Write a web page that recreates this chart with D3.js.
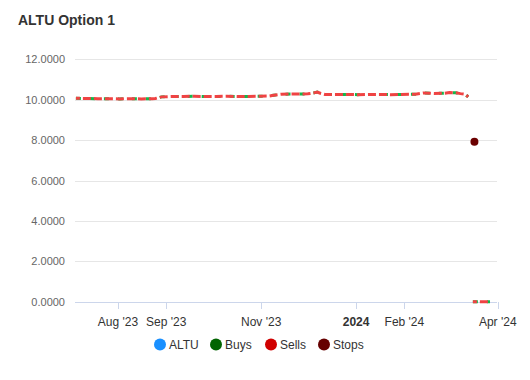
<!DOCTYPE html>
<html><head><meta charset="utf-8">
<script src="https://cdn.jsdelivr.net/npm/d3@7"></script>
<style>body{margin:0;background:#fff;font-family:"Liberation Sans",Arial,sans-serif}</style>
</head><body><div id="chart"></div>
<script>
const title = "ALTU Option 1";
const priceDates = ["2023-07-05","2023-07-12","2023-07-19","2023-07-26","2023-08-02","2023-08-09","2023-08-16","2023-08-23","2023-08-25","2023-08-29","2023-09-05","2023-09-12","2023-09-19","2023-09-26","2023-10-03","2023-10-10","2023-10-17","2023-10-24","2023-10-31","2023-11-06","2023-11-09","2023-11-14","2023-11-21","2023-11-28","2023-12-01","2023-12-05","2023-12-07","2023-12-09","2023-12-12","2023-12-19","2023-12-26","2024-01-02","2024-01-09","2024-01-16","2024-01-23","2024-01-30","2024-02-08","2024-02-13","2024-02-20","2024-02-27","2024-03-01","2024-03-05","2024-03-08","2024-03-11","2024-03-13","2024-03-15","2024-03-16","2024-03-27"];
const priceValues = [10.07,10.06,10.05,10.05,10.04,10.05,10.04,10.05,10.06,10.14,10.16,10.16,10.17,10.16,10.16,10.17,10.16,10.16,10.17,10.18,10.22,10.27,10.28,10.28,10.29,10.34,10.38,10.32,10.26,10.26,10.26,10.25,10.26,10.26,10.25,10.26,10.27,10.33,10.31,10.32,10.36,10.34,10.30,10.27,10.14,null,0,0];
const stopDates = ["2024-03-17"];
const stopValues = [7.92];
const yTicks = [0,2,4,6,8,10,12];
const xTickDates = ["2023-08-01","2023-09-01","2023-11-01","2024-01-01","2024-02-01","2024-04-01"];
const xTickLabels = ["Aug '23","Sep '23","Nov '23","2024","Feb '24","Apr '24"];
const legendNames = ["ALTU","Buys","Sells","Stops"];
const legendColors = ["#1a90ff","#006400","#d00000","#660000"];

const W = 530, H = 380;
const parse = d3.utcParse("%Y-%m-%d");
const svg = d3.select("#chart").append("svg").attr("width", W).attr("height", H);

const x = d3.scaleUtc().domain([new Date(Date.UTC(2023,6,4,10)), new Date(Date.UTC(2024,2,31,12))]).range([75, 497]);
const y = d3.scaleLinear().domain([0, 12]).range([301.7, 59.3]);

svg.append("text").attr("x", 18).attr("y", 25).attr("font-size", 14).attr("font-weight", "bold").attr("fill", "#333").text(title);

// grid
svg.append("g").selectAll("line").data(yTicks).join("line")
  .attr("x1", 75).attr("x2", 497).attr("y1", d => Math.round(y(d)) + 0.5).attr("y2", d => Math.round(y(d)) + 0.5)
  .attr("stroke", d => d === 0 ? "#ccd6eb" : "#e6e6e6");
svg.append("g").selectAll("text").data(yTicks).join("text")
  .attr("x", 65).attr("y", d => y(d) + 4).attr("text-anchor", "end").attr("font-size", 11).attr("fill", "#666")
  .text(d => d3.format(".4f")(d));

// x axis
const xt = xTickDates.map(parse);
const xg = svg.append("g");
xg.selectAll("line").data(xt).join("line")
  .attr("x1", d => Math.round(x(d)) + 0.5).attr("x2", d => Math.round(x(d)) + 0.5).attr("y1", 302).attr("y2", 309).attr("stroke", "#ccd6eb");
xg.selectAll("text").data(xt).join("text")
  .attr("x", d => x(d)).attr("y", 326).attr("text-anchor", "middle").attr("font-size", 12).attr("fill", "#333")
  .attr("font-weight", (d, i) => xTickLabels[i] === "2024" ? "bold" : "normal")
  .text((d, i) => xTickLabels[i]);

const data = priceDates.map((d, i) => ({date: parse(d), v: priceValues[i]}));
const line = d3.line().defined(d => d.v !== null).x(d => x(d.date)).y(d => y(d.v));

svg.append("path").datum(data).attr("d", line).attr("fill", "none").attr("stroke", "#12b84a").attr("stroke-width", 3)
  .attr("stroke-dasharray", "5,9");
svg.append("path").datum(data).attr("d", line).attr("fill", "none").attr("stroke", "#ef4343").attr("stroke-width", 3)
  .attr("stroke-dasharray", "8,3").attr("stroke-dashoffset", 4);

// stops
svg.append("g").selectAll("circle").data(stopDates.map((d, i) => ({date: parse(d), v: stopValues[i]}))).join("circle")
  .attr("cx", d => x(d.date)).attr("cy", d => y(d.v)).attr("r", 4).attr("fill", "#6b0000");

// legend
const lx = [160, 216, 271, 324];
const lg = svg.append("g");
legendNames.forEach((n, i) => {
  lg.append("circle").attr("cx", lx[i]).attr("cy", 344.5).attr("r", 6).attr("fill", legendColors[i]);
  lg.append("text").attr("x", lx[i] + 9).attr("y", 349).attr("font-size", 12).attr("fill", "#333").text(n);
});
</script></body></html>
